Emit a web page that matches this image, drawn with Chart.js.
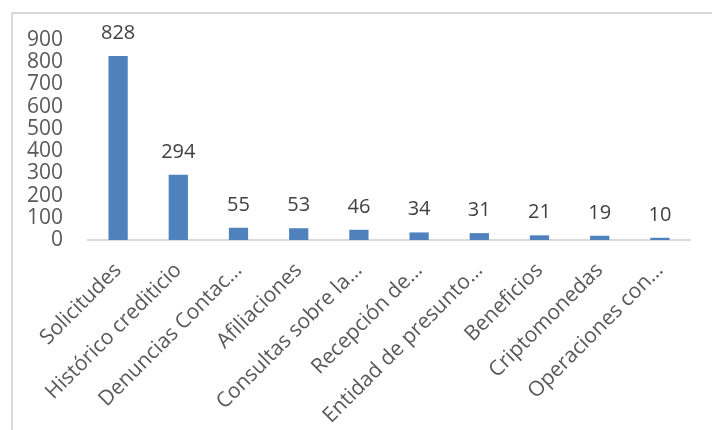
<!DOCTYPE html>
<html>
<head>
<meta charset="utf-8">
<script src="https://cdn.jsdelivr.net/npm/chart.js@4"></script>
<style>
  html, body { margin: 0; padding: 0; background: #fff; }
  #wrap { position: relative; width: 712px; height: 430px; }
</style>
</head>
<body>
<div id="wrap"><canvas id="chart" width="712" height="430"></canvas></div>
<script>
const categories = [
    'Solicitudes', 'Histórico crediticio', 'Denuncias Contac…', 'Afiliaciones',
    'Consultas sobre la…', 'Recepción de…', 'Entidad de presunto…', 'Beneficios',
    'Criptomonedas', 'Operaciones con…'
];
const values = [828, 294, 55, 53, 46, 34, 31, 21, 19, 10];
const yMax = 900;
const yStep = 100;

const FONT = '"Open Sans", sans-serif';

// marco gris claro (recortado por la derecha y abajo)
const framePlugin = {
    id: 'frame',
    beforeDraw(chart) {
        const ctx = chart.ctx;
        ctx.save();
        ctx.fillStyle = '#ffffff';
        ctx.fillRect(0, 0, chart.width, chart.height);
        ctx.strokeStyle = '#d9d9d9';
        ctx.lineWidth = 2;
        ctx.strokeRect(12, 13, chart.width + 20, chart.height + 20);
        ctx.restore();
    }
};

// etiquetas de valor encima de cada barra
const valueLabels = {
    id: 'valueLabels',
    afterDatasetsDraw(chart) {
        const ctx = chart.ctx;
        const meta = chart.getDatasetMeta(0);
        ctx.save();
        ctx.font = '20px ' + FONT;
        ctx.fillStyle = '#404040';
        ctx.textAlign = 'center';
        ctx.textBaseline = 'alphabetic';
        meta.data.forEach((bar, i) => {
            ctx.fillText(String(values[i]), bar.x, bar.y - 17);
        });
        ctx.restore();
    }
};

new Chart(document.getElementById('chart').getContext('2d'), {
    type: 'bar',
    data: {
        labels: categories,
        datasets: [{
            data: values,
            backgroundColor: '#4f81bd',
            borderWidth: 0,
            categoryPercentage: 1,
            barPercentage: 0.32
        }]
    },
    options: {
        responsive: false,
        animation: false,
        devicePixelRatio: 1,
        layout: { padding: { top: 40, right: 22, left: 0, bottom: 0 } },
        plugins: {
            legend: { display: false },
            tooltip: { enabled: false }
        },
        scales: {
            x: {
                grid: { display: false },
                border: { display: true, color: '#d9d9d9', width: 2 },
                ticks: {
                    color: '#595959',
                    font: { family: FONT, size: 21 },
                    maxRotation: 45,
                    minRotation: 45,
                    autoSkip: false,
                    padding: 10
                },
                afterFit(scale) { scale.height = 190; }
            },
            y: {
                min: 0,
                max: yMax,
                grid: { display: false, drawTicks: false },
                border: { display: false },
                ticks: {
                    stepSize: yStep,
                    autoSkip: false,
                    color: '#595959',
                    font: { family: FONT, size: 21 },
                    padding: 25
                },
                afterFit(scale) { scale.width = 88; }
            }
        }
    },
    plugins: [framePlugin, valueLabels]
});
</script>
</body>
</html>
